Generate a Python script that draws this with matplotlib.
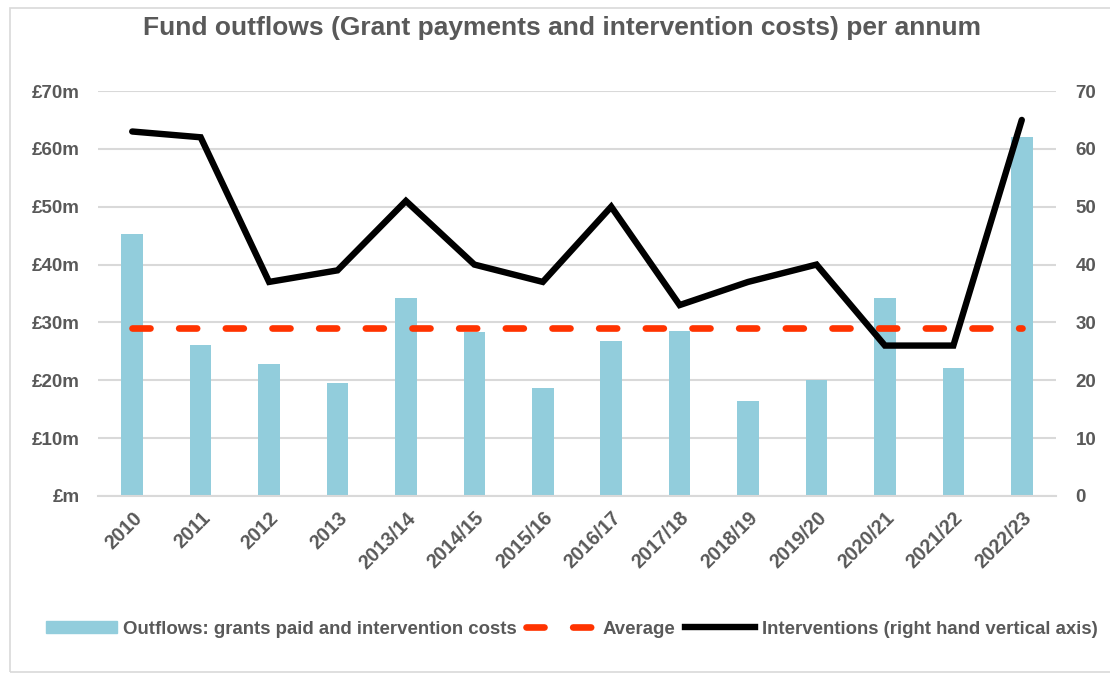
import matplotlib
matplotlib.use("Agg")
import matplotlib.pyplot as plt
from matplotlib.patches import Rectangle
from matplotlib.lines import Line2D
from matplotlib.ticker import FuncFormatter

plt.rcParams['font.family'] = ['Liberation Sans', 'DejaVu Sans']

years = ["2010", "2011", "2012", "2013", "2013/14", "2014/15", "2015/16", "2016/17",
         "2017/18", "2018/19", "2019/20", "2020/21", "2021/22", "2022/23"]
outflows = [45.2, 26.1, 22.9, 19.5, 34.3, 28.3, 18.6, 26.8, 28.6, 16.4, 20.0, 34.2, 22.2, 62.1]
average = [29.0] * len(years)
interventions = [63, 62, 37, 39, 51, 40, 37, 50, 33, 37, 40, 26, 26, 65]

grey = "#595959"
dash_pat = (2.7, 4.3)
fig = plt.figure(figsize=(11.1, 6.77), dpi=100)
fig.patches.append(Rectangle((0.009, 0.008), 0.995, 0.98, transform=fig.transFigure,
                             fill=False, edgecolor="#d9d9d9", linewidth=1.2))
ax = fig.add_axes([98/1110, 1-496/677, (1056-98)/1110, (496-91)/677])
ax2 = ax.twinx()
x = list(range(len(years)))

ax.bar(x, outflows, width=0.315, color="#92CDDC", zorder=2)
ax.plot(x, average, color="#FF3300", linewidth=4.8, dashes=dash_pat,
        dash_capstyle="round", zorder=3)
ax2.plot(x, interventions, color="black", linewidth=4.6, solid_capstyle="round",
         solid_joinstyle="miter", zorder=4)

ax.set_xlim(-0.5, len(years) - 0.5)
ax.set_ylim(0, 70)
ax2.set_ylim(0, 70)
ax.set_yticks(range(0, 71, 10))
ax2.set_yticks(range(0, 71, 10))
ax.yaxis.set_major_formatter(FuncFormatter(lambda v, p: "£m" if v == 0 else f"£{int(v)}m"))
ax.grid(axis="y", color="#d9d9d9", linewidth=1.5, zorder=0)
ax.set_axisbelow(True)
for a in (ax, ax2):
    for s in a.spines.values():
        s.set_visible(False)
    a.tick_params(length=0, colors=grey, labelsize=13.5)
    for lab in a.get_yticklabels():
        lab.set_fontweight("bold")
ax.spines["bottom"].set_visible(True)
ax.spines["bottom"].set_color("#d9d9d9")
ax.spines["bottom"].set_linewidth(1.5)
ax.tick_params(axis="y", pad=13)
ax2.tick_params(axis="y", pad=14)
ax.set_xticks(x)
ax.set_xticklabels(years, rotation=45, ha="right", rotation_mode="anchor",
                   fontweight="bold", fontsize=14.2, color=grey)
ax.tick_params(axis="x", pad=9)
ax2.set_zorder(ax.get_zorder() + 1)
ax2.patch.set_visible(False)

fig.text(0.506, 1-28/677, "Fund outflows (Grant payments and intervention costs) per annum",
         ha="center", va="center", fontsize=19, fontweight="bold", color=grey)

handles = [Rectangle((0, 0), 1, 1, color="#92CDDC"),
           Line2D([], [], color="#FF3300", linewidth=4.8, dashes=dash_pat, dash_capstyle="round"),
           Line2D([], [], color="black", linewidth=4.6)]
labels = ["Outflows: grants paid and intervention costs", "Average",
          "Interventions (right hand vertical axis)"]
leg = fig.legend(handles, labels, loc="center", bbox_to_anchor=(0.515, 1-629/677), ncol=3,
                 frameon=False, handlelength=3.8, handleheight=0.55, handletextpad=0.33,
                 columnspacing=0.5, prop={"weight": "bold", "size": 13.4})
for t in leg.get_texts():
    t.set_color(grey)

fig.savefig("out.png", dpi=100)
